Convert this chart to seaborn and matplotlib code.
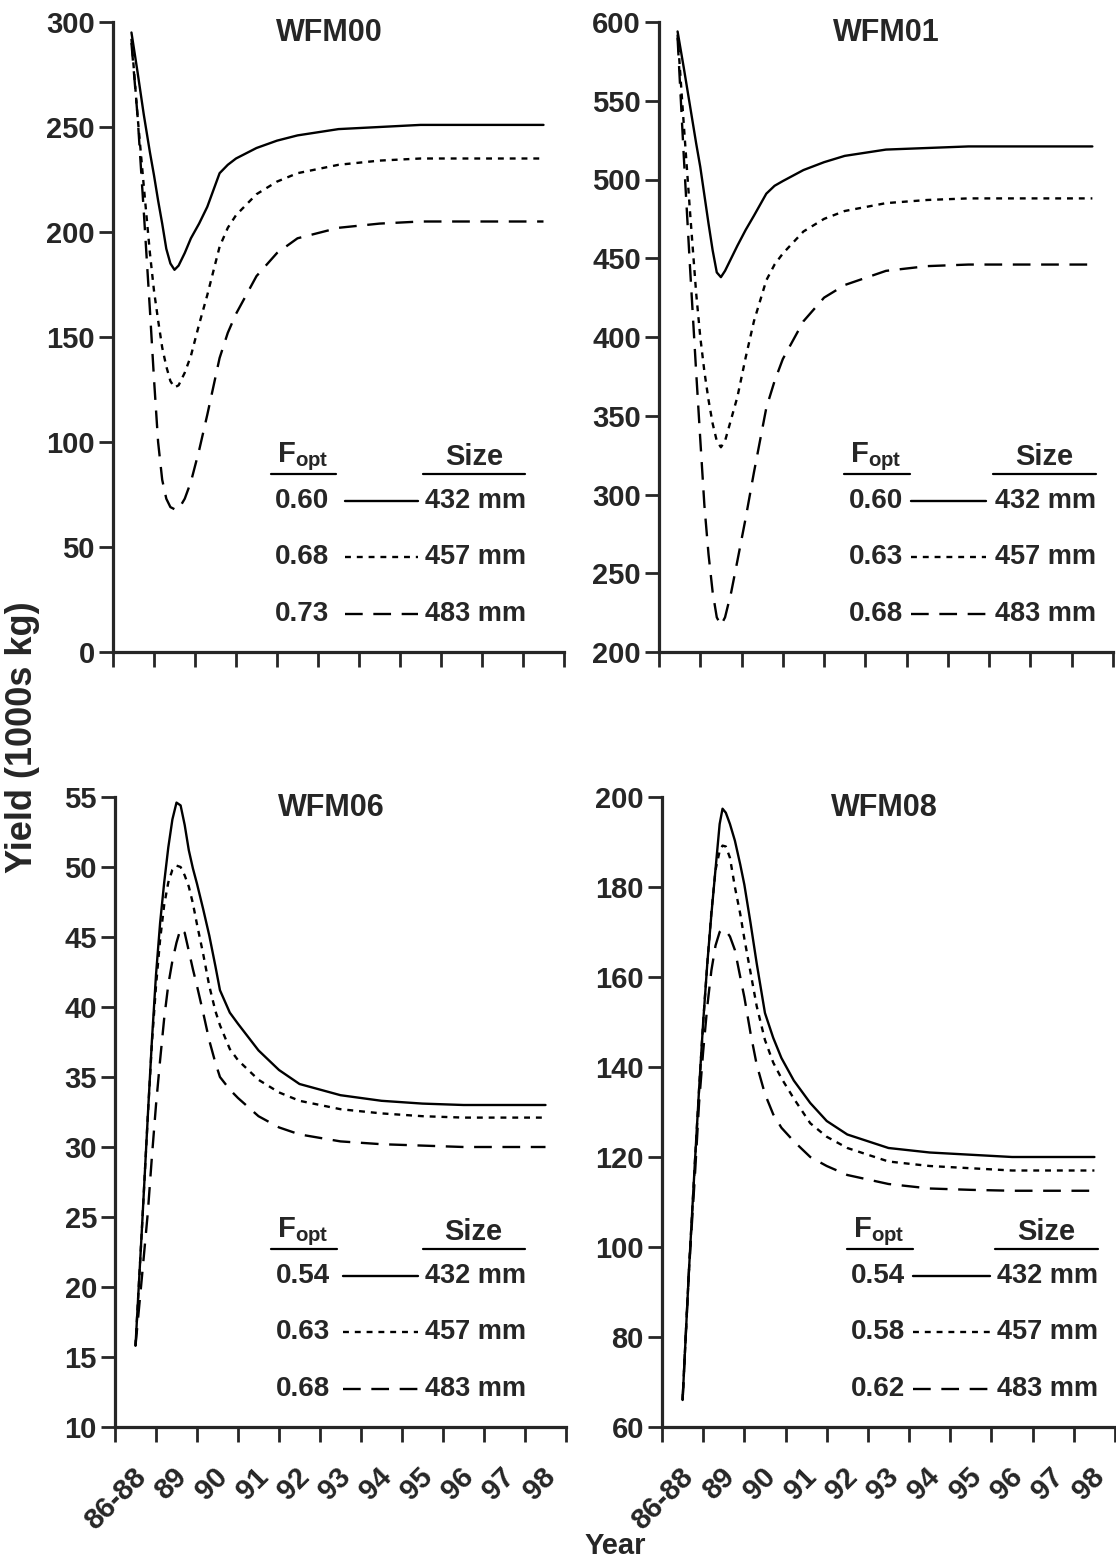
import numpy as np
import pandas as pd
import matplotlib
matplotlib.use("Agg")
import matplotlib.pyplot as plt
import matplotlib.transforms as mtransforms
import seaborn as sns

# year labels on the x axis (one per interval)
year_labels = ["86-88", "89", "90", "91", "92", "93", "94", "95", "96", "97", "98"]
sizes = ["432 mm", "457 mm", "483 mm"]

# WFM00 (top left)
top_x = [0.45, 0.6, 0.75, 0.9, 1.0, 1.1, 1.2, 1.3, 1.4, 1.5, 1.6, 1.75, 1.9, 2.1, 2.3, 2.6, 2.8, 3.0,
         3.5, 4.0, 4.5, 5.5, 6.5, 7.5, 8.5, 9.5, 10.5]
wfm00_432 = [295, 276, 256, 238, 227, 215, 204, 192, 185, 182, 184, 190, 197, 204, 212, 228, 232, 235,
             240, 243.5, 246, 249, 250, 251, 251, 251, 251]
wfm00_457 = [292, 255, 222, 190, 172, 158, 145, 136, 129, 126, 127, 133, 141, 156, 170, 193, 202, 208,
             218, 224, 228, 232, 234, 235, 235, 235, 235]
wfm00_483 = [290, 255, 210, 163, 130, 100, 82, 73, 69, 68, 68, 73, 81, 96, 113, 140, 152, 161,
             179, 190, 197, 202, 204, 205, 205, 205, 205]
wfm00_fopt = ["0.60", "0.68", "0.73"]

# WFM01 (top right)
wfm01_432 = [594, 571, 547, 523, 508, 490, 472, 455, 441, 438, 442, 450, 458, 468, 477, 491, 496, 499,
             506, 511, 515, 519, 520, 521, 521, 521, 521]
wfm01_457 = [592, 535, 480, 428, 400, 378, 360, 345, 334, 330, 334, 348, 362, 387, 410, 436, 446, 453,
             467, 475, 480, 485, 487, 488, 488, 488, 488]
wfm01_483 = [590, 515, 445, 378, 335, 293, 262, 238, 222, 217, 222, 238, 258, 285, 314, 355, 372, 386,
             410, 425, 433, 442, 445, 446, 446, 446, 446]
wfm01_fopt = ["0.60", "0.63", "0.68"]

# WFM06 (bottom left)
wfm06_x = [0.5, 0.65, 0.8, 0.9, 1.0, 1.1, 1.2, 1.3, 1.4, 1.5, 1.6, 1.7, 1.8, 1.9, 2.0, 2.15, 2.3, 2.45,
           2.56, 2.8, 3.0, 3.5, 4.0, 4.5, 5.5, 6.5, 7.5, 8.5, 9.5, 10.5]
wfm06_432 = [15.8, 23.8, 32.2, 37.6, 42.3, 46.0, 48.9, 51.4, 53.4, 54.6, 54.4, 53.0, 51.2, 49.9, 48.8,
             47.0, 45.1, 42.9, 41.2, 39.6, 38.8, 36.9, 35.5, 34.5, 33.7, 33.3, 33.1, 33.0, 33.0, 33.0]
wfm06_457 = [15.8, 23.8, 32.2, 37.4, 41.5, 44.8, 47.3, 48.9, 49.8, 50.1, 50.0, 49.4, 48.6, 47.4, 45.9,
             43.8, 41.5, 39.7, 38.7, 37.0, 36.2, 34.8, 33.9, 33.3, 32.7, 32.4, 32.2, 32.1, 32.1, 32.1]
wfm06_483 = [15.8, 20.5, 25.3, 29.3, 33.0, 36.2, 39.2, 41.6, 43.3, 44.6, 45.6, 45.3, 44.0, 42.7, 41.5,
             39.6, 37.6, 36.0, 35.0, 34.1, 33.5, 32.2, 31.4, 30.9, 30.4, 30.2, 30.1, 30.0, 30.0, 30.0]
wfm06_fopt = ["0.54", "0.63", "0.68"]

# WFM08 (bottom right)
wfm08_x = [0.5, 0.65, 0.8, 0.9, 1.0, 1.1, 1.2, 1.3, 1.4, 1.47, 1.55, 1.65, 1.77, 1.9, 2.0, 2.15, 2.3, 2.5,
           2.7, 2.9, 3.2, 3.6, 4.0, 4.5, 5.5, 6.5, 7.5, 8.5, 9.5, 10.5]
wfm08_432 = [66, 94, 119, 135, 150, 163, 174, 184, 194, 197.4, 196.5, 194, 190.3, 185, 180.5, 172, 163, 152,
             146.5, 142, 137, 132, 128, 125, 122, 121, 120.5, 120, 120, 120]
wfm08_457 = [66, 94, 119, 135, 150, 163, 174.5, 183.8, 188, 189.2, 189, 186.5, 180, 174, 168.5, 161, 153.5, 146,
             141, 137.5, 133, 127.5, 124.5, 122, 119, 118, 117.5, 117, 117, 117]
wfm08_483 = [66, 94, 116, 132, 143.5, 153.5, 161.5, 167, 170, 170.6, 170.3, 169, 166, 160, 155.5, 147.5, 140.5,
             134, 129.5, 126.5, 123.5, 120, 118, 116, 114, 113, 112.7, 112.5, 112.5, 112.5]
wfm08_fopt = ["0.54", "0.58", "0.62"]

sns.set_style("ticks")
plt.rcParams["font.family"] = ["Liberation Sans", "DejaVu Sans"]
plt.rcParams["font.weight"] = "bold"
plt.rcParams["mathtext.fontset"] = "custom"
plt.rcParams["mathtext.rm"] = "Liberation Sans:bold"
plt.rcParams["mathtext.bf"] = "Liberation Sans:bold"

dash_styles = {"432 mm": "", "457 mm": (2.5, 2.5), "483 mm": (7.5, 4.5)}

panels = [
    # name, x, series, fopt, rect, ylim, yticks, legend columns, title x
    ("WFM00", top_x, [wfm00_432, wfm00_457, wfm00_483], wfm00_fopt,
     [113 / 1116, 1 - 652 / 1559, 451 / 1116, 630 / 1559], (0, 300), np.arange(0, 301, 50),
     (0.36, 0.514, 0.676, 0.692), 0.48),
    ("WFM01", top_x, [wfm01_432, wfm01_457, wfm01_483], wfm01_fopt,
     [659 / 1116, 1 - 652 / 1559, 454 / 1116, 630 / 1559], (200, 600), np.arange(200, 601, 50),
     (0.418, 0.555, 0.72, 0.74), 0.50),
    ("WFM06", wfm06_x, [wfm06_432, wfm06_457, wfm06_483], wfm06_fopt,
     [115 / 1116, 1 - 1427 / 1559, 451 / 1116, 630 / 1559], (10, 55), np.arange(10, 56, 5),
     (0.357, 0.506, 0.672, 0.687), 0.48),
    ("WFM08", wfm08_x, [wfm08_432, wfm08_457, wfm08_483], wfm08_fopt,
     [662 / 1116, 1 - 1427 / 1559, 453 / 1116, 630 / 1559], (60, 200), np.arange(60, 201, 20),
     (0.418, 0.555, 0.724, 0.74), 0.49),
]

fig = plt.figure(figsize=(11.16, 15.59), dpi=100)
label_shift = mtransforms.ScaledTranslation(0.06, -0.26, fig.dpi_scale_trans)

for i, (name, xs, series, fopt, rect, ylim, yticks, cols, title_x) in enumerate(panels):
    ax = fig.add_axes(rect)
    df = pd.concat([pd.DataFrame({"pos": xs, "yield": vals, "size": s})
                    for vals, s in zip(series, sizes)], ignore_index=True)
    sns.lineplot(data=df, x="pos", y="yield", style="size", dashes=dash_styles,
                 color="black", lw=1.7, estimator=None, legend=False, ax=ax)

    ax.set_xlim(0, 11)
    ax.set_ylim(*ylim)
    ax.tick_params(axis="x", which="major", direction="out", length=11, width=2)
    ax.tick_params(axis="x", which="minor", length=0, pad=14)
    ax.tick_params(axis="y", direction="out", length=10, width=2, pad=3)
    ax.set_yticks(yticks)
    ax.set_yticklabels([str(v) for v in yticks], fontsize=21, fontweight="bold")
    ax.set_xticks(np.arange(0, 12))
    ax.set_xticklabels([])
    ax.set_xticks(np.arange(0.5, 11, 1), minor=True)
    if i >= 2:
        ax.set_xticklabels(year_labels, minor=True, fontsize=21, fontweight="bold")
        for lab in ax.get_xticklabels(minor=True):
            lab.set_rotation(45)
            lab.set_rotation_mode("anchor")
            lab.set_horizontalalignment("right")
            lab.set_verticalalignment("center")
            lab.set_transform(lab.get_transform() + label_shift)
    else:
        ax.set_xticklabels([], minor=True)
    sns.despine(ax=ax)
    for sp in ["left", "bottom"]:
        ax.spines[sp].set_linewidth(2.3)
    ax.set_xlabel("")
    ax.set_ylabel("")

    ax.text(title_x, 0.983, name, transform=ax.transAxes, ha="center", va="center",
            fontsize=22, fontweight="bold")

    # custom legend: F_opt column, line sample, size column
    x_num, x_l0, x_l1, x_size = cols
    row_y = [0.24, 0.151, 0.061]
    ax.text(x_num + 0.06, 0.31, r"$\mathrm{F}_{\mathrm{opt}}$", transform=ax.transAxes,
            ha="center", va="center", fontsize=21)
    ax.plot([x_num - 0.01, x_num + 0.135], [0.282, 0.282], transform=ax.transAxes,
            color="black", lw=1.6)
    ax.text(x_size + 0.108, 0.31, "Size", transform=ax.transAxes, ha="center",
            va="center", fontsize=21, fontweight="bold")
    ax.plot([x_size - 0.005, x_size + 0.222], [0.282, 0.282], transform=ax.transAxes,
            color="black", lw=1.6)
    for f, s, ry in zip(fopt, sizes, row_y):
        ax.text(x_num, ry, f, transform=ax.transAxes, ha="left", va="center",
                fontsize=20, fontweight="bold")
        ln, = ax.plot([x_l0, x_l1], [ry, ry], transform=ax.transAxes, color="black", lw=1.7)
        if dash_styles[s]:
            ln.set_dashes(dash_styles[s])
        ax.text(x_size, ry, s, transform=ax.transAxes, ha="left", va="center",
                fontsize=19.5, fontweight="bold")

fig.text(0.02, 0.527, "Yield (1000s kg)", rotation=90, ha="center", va="center",
         fontsize=26, fontweight="bold")
fig.text(0.551, 0.0085, "Year", ha="center", va="center", fontsize=21, fontweight="bold")

fig.savefig("out.png", dpi=100)
